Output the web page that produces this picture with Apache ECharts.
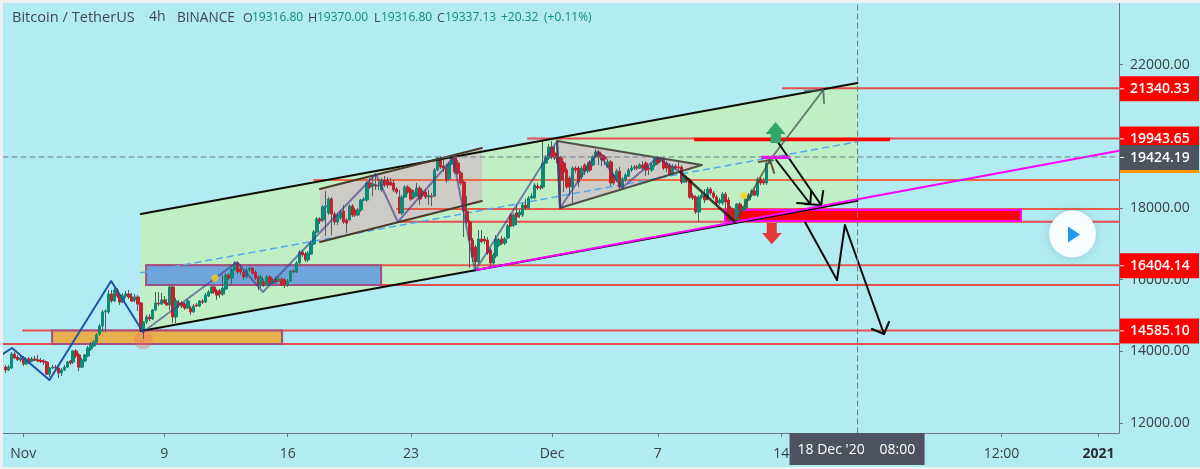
<!DOCTYPE html>
<html>
<head>
<meta charset="utf-8">
<title>Bitcoin / TetherUS 4h</title>
<script src="https://cdn.jsdelivr.net/npm/echarts@6/dist/echarts.min.js"></script>
<style>
  html, body { margin: 0; padding: 0; width: 1200px; height: 469px; background: #eef1f2; overflow: hidden; }
  #chart { position: absolute; left: 3px; top: 3px; width: 1197px; height: 464px; }
</style>
</head>
<body>
<div id="chart"></div>
<script>
// 4h candles as [open, high, low, close], grouped by calendar week.
// Bar 0 is 1 Nov 2020 00:00; the first group is the six bars before it.
const barsOct = [
  [13563,13620,13395,13480],[13480,13620,13450,13563],[13535,13980,13505,13925],[13925,13980,13785,13815],[13840,13895,13730,13770],[13760,13870,13700,13815]
];
const barsNov1 = [
  [13815,13870,13590,13645],[13645,13840,13620,13785],[13785,13840,13645,13700],[13730,13840,13700,13785],[13785,13870,13730,13760],[13760,13900,13700,13730],
  [13745,13815,13675,13720],[13730,13785,13620,13700],[13700,13730,13340,13365],[13365,13560,13285,13535],[13535,13620,13505,13560],[13560,13620,13480,13535],
  [13535,13560,13255,13395],[13395,13535,13310,13480],[13480,13620,13450,13560],[13560,13730,13535,13700],[13730,13760,13620,13675],[13700,14035,13645,14010],
  [14010,14065,13815,13870],[13900,13955,13450,13560],[13560,13815,13535,13760],[13730,13925,13700,13900],[13870,14150,13840,14095],[14065,14260,14010,14175],
  [14150,14315,14120,14260],[14260,14510,14205,14455],[14485,14765,14430,14710],[14710,15155,14540,15100],[15100,15180,14540,15125],[15100,15710,15040,15600],
  [15600,15710,15350,15405],[15405,15770,15375,15710],[15710,15770,15490,15545],[15570,15630,15295,15375],[15375,15630,15350,15545],[15545,15685,15490,15600],
  [15600,15710,15460,15515],[15515,15630,15375,15405],[15435,15600,15375,15515],[15515,15570,15125,15320],[15350,15375,14540,14595],[14595,14845,14345,14820],
  [14820,15015,14765,14960],[14960,15040,14845,14905],[14905,15180,14875,15155],[15155,15655,15125,15350],[15350,15655,15265,15320],[15320,15630,15295,15435]
];
const barsNov2 = [
  [15435,15545,15320,15350],[15350,15460,15265,15295],[15295,15825,15155,15795],[15795,15825,14790,14960],[14960,15490,14790,15405],[15350,15435,15210,15295],
  [15350,15405,15210,15265],[15320,15375,15155,15210],[15210,15460,15180,15405],[15210,15265,15015,15100],[15100,15320,15070,15265],[15295,15350,15235,15265],
  [15265,15435,15235,15405],[15405,15460,15320,15375],[15375,15630,15350,15570],[15545,15710,15515,15655],[15630,15825,15600,15795],[15795,15850,15600,15655],
  [15685,15740,15435,15570],[15685,15740,15490,15600],[15600,16130,15545,15765],[15740,16185,15710,16130],[16130,16185,15990,16045],[16045,16325,15850,16295],
  [16270,16520,16245,16465],[16465,16495,16155,16215],[16300,16380,16130,16215],[16215,16270,15995,16075],[16075,16325,16015,16270],[16270,16380,16215,16325],
  [16325,16355,16130,16185],[16215,16270,15990,16045],[16075,16130,15710,15850],[15850,16130,15765,16075],[15935,16015,15795,15850],[15850,16130,15820,16075],
  [16075,16130,15850,15905],[15905,16045,15880,15960],[16015,16100,15880,15935],[15960,16100,15935,16015],[16015,16075,15820,15850],[15990,16045,15765,15850]
];
const barsNov3 = [
  [15850,16015,15795,15960],[15960,16270,15935,16240],[16240,16300,16185,16215],[16215,16520,16185,16465],[16465,16825,16440,16770],[16770,16825,16630,16690],
  [16715,16770,16495,16550],[16550,16800,16495,16745],[16715,17080,16690,17020],[16995,17385,16970,17330],[17330,17750,17300,17695],[17695,17750,17555,17640],
  [17665,18085,17610,18030],[18030,18475,17220,18055],[17860,18305,17805,18250],[18250,18305,17245,17835],[17835,17890,17525,17610],[17610,17860,17525,17805],
  [17720,17945,17665,17890],[17915,18085,17555,17610],[17665,17720,17300,17580],[17665,18110,17640,18055],[18055,18110,17750,17805],[17945,18000,17750,17805],
  [17805,18000,17775,17945],[17945,18250,17890,18225],[18225,18305,18195,18250],[18225,18750,18170,18700],[18700,18840,18530,18585],[18615,18920,18335,18670],
  [18640,18975,18505,18615],[18615,18725,18505,18640],[18505,18840,18445,18780],[18780,18895,18585,18640],[18780,18865,18555,18640],[18725,18840,18615,18640],
  [18695,18780,18445,18505],[18530,18585,18390,18445],[18305,18505,17835,17860],[17860,18360,17805,18305],[18305,18640,18280,18585],[18585,18640,18390,18445]
];
const barsNov4 = [
  [18505,18555,18195,18250],[18305,18505,18250,18445],[18335,18700,18305,18555],[18555,18615,18085,18250],[18445,18505,18305,18360],[18445,18530,18250,18305],
  [18305,18505,18085,18360],[18335,18420,18055,18305],[18335,19115,18305,19060],[19060,19425,19030,19395],[19370,19450,19090,19145],[19170,19340,19005,19115],
  [19115,19225,18700,18780],[18810,19285,18755,19230],[19230,19450,19200,19395],[19395,19480,18950,19005],[19255,19340,18920,18975],[18975,19030,18640,18700],
  [18725,18780,17190,17915],[17915,18335,17555,17610],[17610,17665,16325,17105],[17105,17165,16495,16635],[16910,16965,16270,16495],[16495,17385,16440,17135],
  [17135,17385,17020,17060],[17135,17220,16995,17080],[17105,17190,16690,16745],[16830,16885,16380,16465],[16465,16745,16410,16690],[16660,17245,16605,17135],
  [16965,17165,16910,17105],[17135,17220,16965,17020],[17020,17190,16965,17135],[17165,17555,17135,17500],[17805,17860,17470,17500],[17525,17860,17470,17805],
  [17860,18085,17525,17750],[17805,17945,17720,17890],[17805,18140,17750,18085],[18085,18250,17945,18000],[18000,18335,17975,18280],[18280,18420,18250,18335],
  [18280,18700,18250,18640],[18615,18700,18505,18560],[18585,18640,18505,18560],[18585,19900,18530,19255],[19255,19480,19225,19425],[19395,19785,19340,19700]
];
const barsDec1 = [
  [19700,19870,19365,19425],[19535,19730,19340,19395],[19425,19620,19200,19255],[19395,19450,18030,18780],[19255,19310,18445,19005],[19060,19115,18530,18585],
  [18835,18895,18360,18585],[18585,19170,18140,19115],[19115,19170,18975,19060],[19115,19170,18585,18725],[18865,19170,18810,19115],[19200,19255,18920,19030],
  [19030,19285,18975,19200],[19285,19340,19005,19060],[19200,19480,19170,19425],[19425,19645,19395,19565],[19565,19620,19200,19425],[19480,19535,19170,19340],
  [19425,19480,19200,19370],[19145,19365,19115,19285],[19285,19340,18615,18700],[18920,18975,18640,18700],[18780,19090,18725,19030],[19030,19145,18505,18585],
  [18585,18865,18505,18810],[18780,18975,18725,18920],[18890,19115,18865,19060],[19060,19200,19005,19115],[19115,19200,19060,19145],[19145,19200,19060,19115],
  [19115,19255,19090,19200],[19200,19310,19060,19115],[19255,19310,18895,19060],[19115,19170,18920,19090],[19060,19255,19005,19200],[19200,19450,19145,19395]
];
const barsDec2 = [
  [19395,19450,19200,19255],[19340,19425,19285,19370],[19370,19425,19060,19115],[19255,19310,19005,19115],[19200,19255,18895,18950],[18950,19225,18920,19170],
  [19170,19225,19060,19115],[19145,19285,19060,19115],[19145,19200,18670,18725],[18725,18950,18700,18895],[18835,18895,18700,18755],[18780,18835,18250,18305],
  [18335,18420,18225,18280],[18305,18360,17835,17890],[17890,18360,17610,18305],[18305,18420,18250,18360],[18335,18530,18140,18225],[18280,18585,18225,18530],
  [18530,18585,18360,18420],[18420,18475,18250,18305],[18305,18360,18055,18140],[18140,18280,18085,18225],[18140,18445,18085,18390],[18390,18445,17975,18170],
  [18225,18305,17610,17665],[17995,18055,17610,17665],[17945,18000,17610,17665],[17640,18140,17555,18110],[18110,18165,17890,17945],[17945,18055,17890,18000],
  [18000,18305,17945,18250],[18225,18420,18195,18360],[18360,18530,18305,18475],[18475,18585,18335,18360],[18360,18865,18305,18810],[18810,18865,18640,18700],
  [18755,18840,18640,18700],[18700,19310,18640,19255],[19255,19395,19230,19310],[19316.8,19370,19316.8,19337.13]
];
const firstBar = -6;

// Axis ranges and ticks; x is the bar number, y the price.
const xMin = -6.91, xMax = 373;
const yMin = 11721, yMax = 23722;
const priceTicks = [12000, 14000, 16000, 18000, 20000, 22000];
const timeTicks = [0, 48, 90, 132, 180, 216, 258, 333, 366];
const timeLabels = ['Nov', '9', '16', '23', 'Dec', '7', '14', '12:00', '{y|2021}'];
const cursorBar = 284;
const cursorPrice = 19424.19;

// Horizontal levels: price, first bar, colour.
const levelPrices = [21340.33, 19943.65, 18782, 17973, 17618, 16404.14, 15853, 14585.10, 14205];
const levelStarts = [258.6, 171.8, 99, 127.2, 127.5, 41.8, 41.8, 0, xMin];
const levelColors = ['#e84c4f', '#e84c4f', '#ee6a45', '#ea5a48', '#e84c4f', '#ea5a48', '#e84c4f', '#e84c4f', '#e84c4f'];

// Price tags in the right-hand scale.
const tagPrices = [21340.33, 19943.65, 16404.14, 14585.10, 19424.19];
const tagFills = ['#ff0000', '#ff0000', '#ff0000', '#ff0000', '#4c525e'];

// Drawing tools, all as [bar, price].
const channelTop = [[40, 17833], [284, 21489]];
const channelBottom = [[40, 14567], [284, 18204]];
const channelMid = [[40, 16194], [284, 19851]];
const flagTop = [[101, 18531], [156.1, 19675]];
const flagBottom = [[101, 17052], [156.1, 18196]];
const triangle = [[181.7, 19870], [231, 19201], [182.7, 18000]];
const supportLine = [[154.2, 16270], [373, 19600]];
const waveBlue = [[xMin, 13926], [-3.85, 14093], [8.9, 13200], [29.9, 15963], [40.75, 14540]];
const waveGrey = [[40.75, 14540], [72.75, 16493], [81.6, 15656], [120, 18950], [127.5, 17610], [146.3, 19396], [153.8, 16242],
  [181.7, 19870], [182.7, 18000], [195.6, 19563], [203.8, 18559], [215.7, 19396], [223.6, 19005]];
const waveDark = [[223.6, 19005], [242.3, 17610]];
const waveRise = [[242.3, 17610], [254.2, 19340]];
const waveRiseHead = [[250.4, 19284], [254.2, 19340], [255.6, 18977]];
const upArrow = [[254.2, 19340], [272.3, 21294]];
const upArrowHead = [[266.1, 21266], [272.3, 21294], [272.6, 20931]];
const downArrowA = [[256.6, 19870], [271.6, 18084]];
const downArrowAHead = [[272.3, 18475], [271.6, 18084], [266.1, 18112]];
const downArrowB = [[256.3, 19340], [267.9, 18112]];
const downArrowBHead = [[268.2, 18475], [267.9, 18112], [263.4, 18140]];
const dropPath = [[266.1, 17610], [277, 15991], [279.7, 17526], [293, 14484]];
const dropPathHead = [[288.9, 14623], [293, 14484], [294.7, 14819]];
const blueBox = [41.8, 121.8, 16404.14, 15853];
const orangeBox = [9.8, 88.1, 14585.10, 14205];
const redBox = [238.9, 339.6, 17945, 17640];
const thinRedBox = [228.7, 294.7, 19934, 19890];
const magentaBox = [251.5, 260.7, 19432, 19396];
const longMarker = [[256.1, 20401], [259.5, 20066], [257.9, 20066], [257.9, 19815], [254.4, 19815], [254.4, 20066], [252.7, 20066]];
const shortMarker = [[254.8, 16987], [258.2, 17303], [256.5, 17303], [256.5, 17582], [253.1, 17582], [253.1, 17303], [251.5, 17303]];
const yellowDots = [[65.3, 16047], [245.3, 18344]];
const pivotDot = [[40.85, 14316]];

// Header text pieces: text, x, colour, size.
const headerParts = [
  ['Bitcoin / TetherUS', 9, '#434651', 14.6], ['·', 141, '#b8c8cc', 14], ['4h', 146, '#434651', 14], ['·', 168, '#b8c8cc', 14], ['BINANCE', 174, '#434651', 13.6],
  ['O', 240, '#434651', 12.5], ['19316.80', 249, '#0f8c80', 12], ['H', 305, '#434651', 12.5], ['19370.00', 314, '#0f8c80', 12],
  ['L', 371, '#434651', 12.5], ['19316.80', 378, '#0f8c80', 12], ['C', 434, '#434651', 12.5], ['19337.13', 442, '#0f8c80', 12],
  ['+20.32', 498, '#0f8c80', 12], ['(+0.11%)', 541, '#0f8c80', 12]
];
const fontFamily = '"Open Sans", sans-serif';

const candles = [].concat(barsOct, barsNov1, barsNov2, barsNov3, barsNov4, barsDec1, barsDec2);
const wickData = candles.map((c, i) => [firstBar + i, c[0], c[3], c[2], c[1]]);
const bodyData = candles.map((c, i) => [firstBar + i, c[0], c[3], Math.min(c[0], c[3]), Math.max(c[0], c[3])]);

function line(name, data, color, width, z, type) {
  return {
    type: 'line', name, data, z, silent: true, symbol: 'none', showSymbol: false, animation: false,
    lineStyle: { color, width, type: type || 'solid', cap: 'round', join: 'round' }
  };
}

function polygon(name, points, style, z) {
  return {
    type: 'custom', name, z, silent: true, clip: true, data: [0], animation: false,
    coordinateSystem: 'cartesian2d',
    renderItem: (params, api) => ({ type: 'polygon', shape: { points: points.map(p => api.coord(p)) }, style })
  };
}

function boxPoints(b) {
  return [[b[0], b[2]], [b[1], b[2]], [b[1], b[3]], [b[0], b[3]]];
}

const series = [];

// Filled channel and pattern areas sit behind everything else.
series.push(polygon('channelFill', [channelTop[0], channelTop[1], channelBottom[1], channelBottom[0]], { fill: '#c1efc5' }, 1));
series.push(polygon('flagFill', [flagTop[0], flagTop[1], flagBottom[1], flagBottom[0]], { fill: '#cccbc6' }, 2));
series.push(polygon('triangleFill', triangle, { fill: '#cccbc6' }, 2));

levelPrices.forEach((p, i) => {
  series.push(line('level' + i, [[levelStarts[i], p], [xMax, p]], levelColors[i], 2, 3));
});

series.push(polygon('blueBox', boxPoints(blueBox), { fill: '#70a5dc', stroke: '#a04f80', lineWidth: 2 }, 4));
series.push(polygon('orangeBox', boxPoints(orangeBox), { fill: '#e8b04c', stroke: '#a04f80', lineWidth: 2 }, 4));
series.push(polygon('redBox', boxPoints(redBox), { fill: '#ff0000', stroke: '#ff00ff', lineWidth: 2 }, 4));
series.push(polygon('thinRedBox', boxPoints(thinRedBox), { fill: '#ffd9d9', stroke: '#ff0000', lineWidth: 2 }, 4));
series.push(line('channelMid', channelMid, '#56a8ee', 1.5, 5, [6, 5]));

series.push({
  type: 'candlestick', name: 'wicks', data: wickData, encode: { x: 0, y: [1, 2, 3, 4] },
  barWidth: 1, z: 6, silent: true, animation: false,
  itemStyle: { color: '#4f5f5f', color0: '#4f5f5f', borderColor: '#4f5f5f', borderColor0: '#4f5f5f', borderWidth: 1 }
});
series.push({
  type: 'candlestick', name: 'bodies', data: bodyData, encode: { x: 0, y: [1, 2, 3, 4] },
  barWidth: 3, z: 7, silent: true, animation: false,
  itemStyle: { color: '#0c8a78', color0: '#c2222a', borderColor: '#0c8a78', borderColor0: '#c2222a', borderWidth: 1 }
});

series.push(line('channelTop', channelTop, '#0d0d05', 2, 8));
series.push(line('channelBottom', channelBottom, '#0d0d05', 2, 8));
series.push(line('flagTop', flagTop, '#4b3a2a', 2, 8));
series.push(line('flagBottom', flagBottom, '#4b3a2a', 2, 8));
series.push(line('triangleEdges', triangle.concat([triangle[0]]), 'rgba(60,55,50,0.85)', 2, 8));
series.push(line('support', supportLine, '#ff00ff', 2, 9));
series.push(line('waveBlue', waveBlue, '#1c55a8', 2, 9));
series.push(line('waveGrey', waveGrey, 'rgba(60,60,140,0.62)', 2, 9));
series.push(line('waveDark', waveDark, 'rgba(25,25,15,0.8)', 2.5, 9));
series.push(line('waveRise', waveRise, 'rgba(90,70,40,0.7)', 2, 9));
series.push(line('waveRiseHead', waveRiseHead, 'rgba(90,70,40,0.9)', 2, 9));
series.push(line('upArrow', upArrow, 'rgba(70,90,80,0.75)', 2, 9));
series.push(line('upArrowHead', upArrowHead, 'rgba(70,90,80,0.75)', 2, 9));
series.push(line('downArrowA', downArrowA, '#0a0a0a', 2, 9));
series.push(line('downArrowAHead', downArrowAHead, '#0a0a0a', 2, 9));
series.push(line('downArrowB', downArrowB, '#0a0a0a', 2, 9));
series.push(line('downArrowBHead', downArrowBHead, '#0a0a0a', 2, 9));
series.push(line('dropPath', dropPath, '#0a0a0a', 2, 9));
series.push(line('dropPathHead', dropPathHead, '#0a0a0a', 2, 9));
series.push(polygon('magentaBox', boxPoints(magentaBox), { fill: '#ffb8ff', stroke: '#ff00ff', lineWidth: 2 }, 10));
series.push(polygon('longMarker', longMarker, { fill: '#2fa86e' }, 10));
series.push(polygon('shortMarker', shortMarker, { fill: '#e53935' }, 10));

series.push({
  type: 'scatter', name: 'pivot', data: pivotDot, symbolSize: 19, z: 5, silent: true, animation: false,
  itemStyle: { color: 'rgba(240,110,100,0.45)' }
});
series.push({
  type: 'scatter', name: 'signals', data: yellowDots, symbolSize: 7, z: 10, silent: true, animation: false,
  itemStyle: { color: '#fdd00f' }
});

// Crosshair at the hovered bar.
series.push(line('cursorX', [[xMin, cursorPrice], [xMax, cursorPrice]], '#6d7c88', 1, 11, [5, 4]));
series.push(line('cursorY', [[cursorBar, yMin], [cursorBar, yMax]], '#6d7c88', 1, 11, [5, 4]));

// Price tags drawn next to the axis at their own price.
series.push({
  type: 'custom', name: 'priceTags', z: 20, silent: true, clip: false, animation: false,
  coordinateSystem: 'cartesian2d', data: tagPrices.map(p => [xMax, p]),
  renderItem: (params, api) => {
    const price = api.value(1);
    const pos = api.coord([xMax, price]);
    const children = [
      { type: 'rect', shape: { x: pos[0] + 1, y: pos[1] - 12, width: 79, height: 25 }, style: { fill: tagFills[params.dataIndex] } },
      { type: 'rect', shape: { x: pos[0] + 1, y: pos[1], width: 4, height: 1 }, style: { fill: '#ffffff' } },
      { type: 'text', x: pos[0] + 11, y: pos[1] + 1, style: { text: price.toFixed(2), fill: '#ffffff', font: '600 14px ' + fontFamily, textVerticalAlign: 'middle' } }
    ];
    if (tagFills[params.dataIndex] === '#4c525e') {
      children.push({ type: 'rect', shape: { x: pos[0] + 1, y: pos[1] + 13, width: 79, height: 3 }, style: { fill: '#ff9800' } });
    }
    return { type: 'group', children };
  }
});

// Date tag under the crosshair.
series.push({
  type: 'custom', name: 'dateTag', z: 20, silent: true, clip: false, animation: false,
  coordinateSystem: 'cartesian2d', data: [[cursorBar, yMin]],
  renderItem: (params, api) => {
    const pos = api.coord([api.value(0), yMin]);
    return {
      type: 'group', children: [
        { type: 'rect', shape: { x: pos[0] - 68, y: pos[1], width: 135, height: 32 }, style: { fill: '#4c525e' } },
        { type: 'text', x: pos[0] - 60, y: pos[1] + 17, style: { text: "18 Dec '20", fill: '#ffffff', font: '14px ' + fontFamily, textVerticalAlign: 'middle' } },
        { type: 'text', x: pos[0] + 22, y: pos[1] + 17, style: { text: '08:00', fill: '#ffffff', font: '14px ' + fontFamily, textVerticalAlign: 'middle' } }
      ]
    };
  }
});

const graphics = headerParts.map(p => ({
  type: 'text', left: p[1], top: 17 - p[3] * 0.68, silent: true,
  style: { text: p[0], fill: p[2], font: p[3] + 'px ' + fontFamily }
}));
graphics.push(
  { type: 'circle', silent: true, z: 30, shape: { cx: 1069.5, cy: 231, r: 23.5 },
    style: { fill: '#f7fcfe', shadowBlur: 8, shadowColor: 'rgba(80,110,120,0.25)' } },
  { type: 'polygon', silent: true, z: 31, shape: { points: [[1065, 223.5], [1077, 231.5], [1065, 239.5]] },
    style: { fill: '#2196f3' } }
);

const chart = echarts.init(document.getElementById('chart'), null, { renderer: 'canvas' });
chart.setOption({
  animation: false,
  backgroundColor: '#b2ebf2',
  grid: { left: 0, top: 0, width: 1116, height: 430 },
  tooltip: { show: false },
  xAxis: {
    type: 'value', min: xMin, max: xMax, position: 'bottom', splitLine: { show: false },
    axisLine: { show: true, onZero: false, lineStyle: { color: '#6b7580', width: 1 } },
    axisTick: { show: true, length: 4, customValues: timeTicks, lineStyle: { color: '#6b7580' } },
    axisLabel: {
      customValues: timeTicks, margin: 14, color: '#3c4043', fontFamily, fontSize: 14,
      formatter: v => timeLabels[timeTicks.indexOf(v)],
      rich: { y: { fontWeight: 'bold', color: '#2b2e33', fontFamily, fontSize: 14 } }
    }
  },
  yAxis: {
    type: 'value', min: yMin, max: yMax, position: 'right', splitLine: { show: false },
    axisLine: { show: true, onZero: false, lineStyle: { color: '#6b7580', width: 1 } },
    axisTick: { show: true, length: 4, customValues: priceTicks, lineStyle: { color: '#6b7580' } },
    axisLabel: {
      customValues: priceTicks, margin: 11, color: '#3c4043', fontFamily, fontSize: 14, padding: [6, 0, 0, 0],
      formatter: v => v.toFixed(2)
    }
  },
  graphic: graphics,
  series
});
</script>
</body>
</html>
